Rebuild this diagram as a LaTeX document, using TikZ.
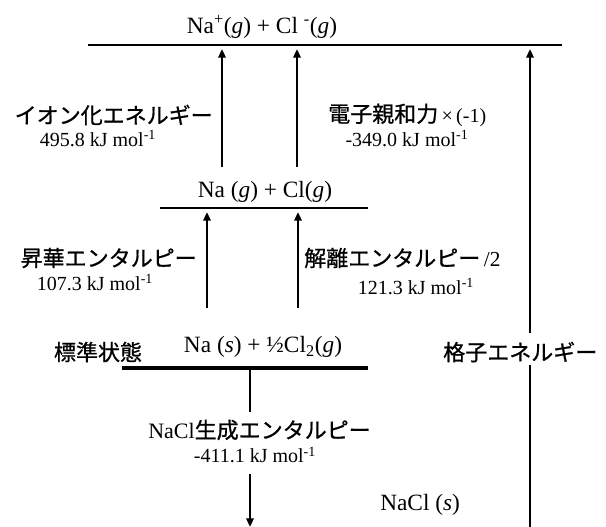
\documentclass[tikz,border=0pt]{standalone}
\usepackage{fontspec}
\setmainfont{Liberation Serif}
\newfontfamily\jp{Noto Sans CJK JP}[FakeBold=0.8]
\usetikzlibrary{arrows.meta}
\begin{document}
\begin{tikzpicture}[x=0.75pt,y=-0.75pt,
  lat/.style={font=\fontsize{15}{17}\selectfont, inner sep=0pt},
  levt/.style={font=\fontsize{17.5}{19}\selectfont, inner sep=0pt},
  jpl/.style={font=\fontsize{16.5}{18}\selectfont\jp, inner sep=0pt},
  level/.style={line width=1.8pt},
  thicklevel/.style={line width=3.6pt},
  conn/.style={line width=2.1pt},
  arr/.style={line width=2.1pt, -{Triangle[length=6.5pt,width=5.5pt]}},
 ]
\useasboundingbox (0,0) rectangle (606,527);
% level lines
\coordinate (topL) at (88,45);  \coordinate (topR) at (562,45);
\coordinate (midL) at (160,208); \coordinate (midR) at (368,208);
\coordinate (botL) at (122,368); \coordinate (botR) at (368,368);
\draw[level] (topL) -- (topR);
\draw[level] (midL) -- (midR);
\draw[thicklevel] (botL) -- (botR);
% level labels
\node[levt] (topT) at (262,27) {Na\textsuperscript{+}(\textit{g}) + Cl \textsuperscript{-}(\textit{g})};
\node[levt] (midT) at (265,192) {Na (\textit{g}) + Cl(\textit{g})};
\node[levt] (botT) at (263,347) {Na (\textit{s}) + ½Cl\textsubscript{2}(\textit{g})};
\node[jpl] (std) at (98,352) {標準状態};
\node[jpl, anchor=west] (latt) at (443,352) {格子エネルギー};
\node[levt, anchor=west] (nacl) at (380,505) {NaCl (\textit{s})};
% step labels
\node[jpl, anchor=east] (ionL) at (213,115) {イオン化エネルギー};
\node[lat] (ionV) at (98,139) {495.8 kJ mol\textsuperscript{-1}};
\node[anchor=west, inner sep=0pt] (eaL) at (328,115) {{\fontsize{16.5}{18}\selectfont\jp 電子親和力}{\fontsize{15}{17}\selectfont\,×\,(-1)}};
\node[lat] (eaV) at (407,139) {-349.0 kJ mol\textsuperscript{-1}};
\node[jpl, anchor=east] (subL) at (197,258) {昇華エンタルピー};
\node[lat] (subV) at (95,283) {107.3 kJ mol\textsuperscript{-1}};
\node[anchor=west, inner sep=0pt] (disL) at (304,258) {{\fontsize{16.5}{18}\selectfont\jp 解離エンタルピー}{\fontsize{16}{17}\selectfont\,/2}};
\node[lat] (disV) at (416,287) {121.3 kJ mol\textsuperscript{-1}};
\node[jpl, anchor=east] (forL) at (371,430) {{\fontsize{16.5}{17}\selectfont\rmfamily NaCl}生成エンタルピー};
\node[lat] (forV) at (255,455) {-411.1 kJ mol\textsuperscript{-1}};
% arrow end points
\coordinate (a1s) at (222,167); \coordinate (a1e) at (222,49);
\coordinate (a2s) at (297,167); \coordinate (a2e) at (297,49);
\coordinate (b1s) at (207,308); \coordinate (b1e) at (207,212);
\coordinate (b2s) at (298,308); \coordinate (b2e) at (298,212);
\coordinate (f1s) at (250,370); \coordinate (f1e) at (250,412);
\coordinate (f2s) at (250,474); \coordinate (f2e) at (250,527);
\coordinate (r1s) at (530,527); \coordinate (r1e) at (530,365);
\coordinate (r2s) at (530,333); \coordinate (r2e) at (530,49);
\draw[arr] (a1s) -- (a1e);
\draw[arr] (a2s) -- (a2e);
\draw[arr] (b1s) -- (b1e);
\draw[arr] (b2s) -- (b2e);
\draw[conn] (f1s) -- (f1e);
\draw[arr] (f2s) -- (f2e);
\draw[conn] (r1s) -- (r1e);
\draw[arr] (r2s) -- (r2e);
\end{tikzpicture}
\end{document}
